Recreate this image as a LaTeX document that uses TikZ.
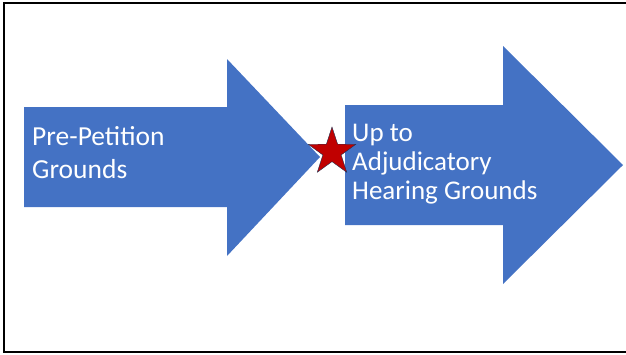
\documentclass[tikz,border=0pt]{standalone}
\usepackage{fontspec}
\setmainfont{Carlito}
\usetikzlibrary{shapes.geometric}
\usetikzlibrary{positioning}

\definecolor{arrowblue}{HTML}{4472C4}
\definecolor{starred}{HTML}{C00000}
\definecolor{starline}{HTML}{1F2F4F}

\begin{document}
\begin{tikzpicture}[x=1pt,y=-1pt]
			\tikzset{
				arrowshape/.style={fill=arrowblue, draw=none},
				arrowtext/.style={anchor=base west, inner sep=0pt, align=left, text=white},
				starnode/.style={star, star points=5, star point ratio=2.6, fill=starred, draw=starline, thin, minimum size=50pt, inner sep=0pt},
			}
			\useasboundingbox (0,0) rectangle (626,354);
			% frame
			\draw[line width=2pt] (626,3) -- (4,3) -- (4,352) -- (626,352);

			% the two arrows
			\fill[arrowshape] (24,107) -- (227,107) -- (227,59) -- (320,157) -- (227,256) -- (227,207) -- (24,207) -- cycle;
			\fill[arrowshape] (345,105) -- (503,105) -- (503,46) -- (623,165) -- (503,284) -- (503,225) -- (345,225) -- cycle;

			\node[arrowtext, font=\fontsize{27.5}{32.5}\selectfont] (prepetition) at (32,178) {Pre-Petition\\Grounds};
			\node[arrowtext, font=\fontsize{27}{29}\selectfont] (adjudicatory) at (352,199) {Up to\\Adjudicatory\\Hearing Grounds};

			\node[starnode] (milestone) at (332,152) {};
		\end{tikzpicture}
\end{document}
